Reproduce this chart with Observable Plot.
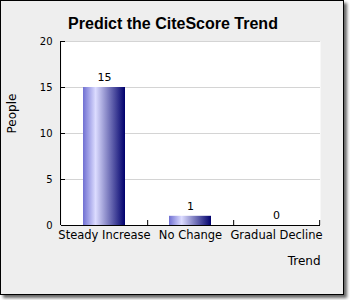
<!DOCTYPE html>
<html><head><meta charset="utf-8">
<script src="https://cdn.jsdelivr.net/npm/d3@7"></script>
<script src="https://cdn.jsdelivr.net/npm/@observablehq/plot@0.6"></script>
<style>
body{margin:0;background:#fff;}
#frame{position:absolute;left:0;top:0;width:342px;height:293px;border:1px solid #000;background:#eeeeee;box-shadow:3px 3px 3px #666;}
#chart{position:absolute;left:0;top:0;}
</style></head><body>
<div id="frame"></div><div id="chart"></div>
<script>
const categories = ["Steady Increase", "No Change", "Gradual Decline"];
const people = [15, 1, 0];
const yTicks = [0, 5, 10, 15, 20];
const titleText = "Predict the CiteScore Trend";
const xLabel = "Trend";
const yLabel = "People";

const data = categories.map((c, i) => ({category: c, people: people[i]}));
const W = 350, H = 300, mL = 61, mR = 30, mT = 41, mB = 75;
const step = (W - mL - mR) / categories.length;
const innerH = H - mT - mB;

const leftLine = (index, scales, values, dims) => {
  const g = d3.create("svg:line")
    .attr("x1", dims.marginLeft - 0.5).attr("x2", dims.marginLeft - 0.5)
    .attr("y1", dims.marginTop).attr("y2", dims.height - dims.marginBottom)
    .attr("stroke", "black");
  return g.node();
};

const chart = Plot.plot({
  width: W, height: H,
  marginLeft: mL, marginRight: mR, marginTop: mT, marginBottom: mB,
  style: {background: "transparent", fontFamily: "DejaVu Sans", fontSize: "10px", color: "#000", overflow: "visible"},
  x: {domain: categories, paddingInner: 0.51, paddingOuter: 0.255, align: 0.5, axis: null},
  y: {domain: [0, 20], axis: null},
  marks: [
    Plot.frame({fill: "white", stroke: null}),
    Plot.ruleY(yTicks.filter(d => d > 0), {stroke: "#d4d4d4"}),
    Plot.barY(data, {x: "category", y: "people", fill: "url(#barGrad)"}),
    Plot.ruleY(yTicks, {stroke: "black", insetRight: (W - mL - mR) - 4}),
    Plot.ruleX(categories, {x: d => d, dx: step / 2, insetTop: innerH - 5, stroke: "black"}),
    Plot.ruleY([0], {stroke: "black"}),
    leftLine,
    Plot.axisY({ticks: yTicks, tickSize: 0, tickPadding: 9, fontSize: 10, label: null}),
    Plot.axisX({tickSize: 0, tickPadding: 5, fontSize: 11.5, label: null}),
    Plot.text(data, {x: "category", y: "people", text: d => String(d.people), dy: -10, fontSize: 11}),
    Plot.text([yLabel], {frameAnchor: "left", dx: -49, rotate: -90, fontSize: 12}),
    Plot.text([xLabel], {frameAnchor: "bottom-right", textAnchor: "end", dy: 39, fontSize: 12}),
    Plot.text([titleText], {frameAnchor: "top", dx: -18, dy: -24, fontSize: 16, fontWeight: "bold", fontFamily: "Liberation Sans"})
  ]
});

const svg = d3.select(chart);
const defs = svg.insert("defs", ":first-child");
const grad = defs.append("linearGradient").attr("id", "barGrad").attr("x1", "0").attr("x2", "1").attr("y1", "0").attr("y2", "0");
[["0", "#7070d2"], ["0.3", "#dcdcff"], ["1", "#00006c"]].forEach(([o, c]) => grad.append("stop").attr("offset", o).attr("stop-color", c));
document.getElementById("chart").appendChild(chart);
</script>
</body></html>
